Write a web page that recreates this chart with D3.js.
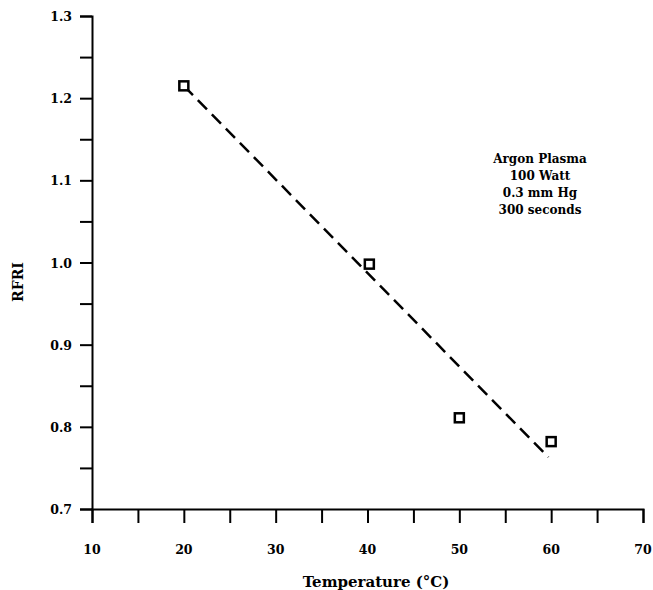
<!DOCTYPE html>
<html><head><meta charset="utf-8">
<script src="https://cdn.jsdelivr.net/npm/d3@7"></script>
<style>body{margin:0;background:#fff}svg{display:block}</style>
</head><body>
<script>
const temps = [20, 40.2, 50, 60];
const rfri = [1.215, 0.998, 0.811, 0.782];
const fitX = [20, 59.7];
const fitY = [1.215, 0.763];
const xTicks = [10, 20, 30, 40, 50, 60, 70];
const yTicks = [0.7, 0.8, 0.9, 1.0, 1.1, 1.2, 1.3];
const noteLines = ["Argon Plasma", "100 Watt", "0.3 mm Hg", "300 seconds"];

const W = 653, H = 590;
const svg = d3.select("body").append("svg").attr("width", W).attr("height", H);
const x = d3.scaleLinear().domain([10, 70]).range([92, 643]);
const y = d3.scaleLinear().domain([0.7, 1.3]).range([509, 16]);
const font = "'DejaVu Serif', serif";

// axes
const xAxis = d3.axisBottom(x).tickValues(d3.range(10, 70.1, 5)).tickSize(14).tickFormat(() => "");
const gx = svg.append("g").attr("transform", "translate(0,509)").call(xAxis);
const yAxis = d3.axisLeft(y).tickValues(d3.range(0.7, 1.301, 0.05)).tickSize(12).tickFormat(() => "");
const gy = svg.append("g").attr("transform", "translate(92,0)").call(yAxis);
[gx, gy].forEach(g => {
  g.select(".domain").attr("stroke", "#000").attr("stroke-width", 2);
  g.selectAll(".tick line").attr("stroke", "#000").attr("stroke-width", 2);
});

svg.append("g").selectAll("text").data(xTicks).join("text")
  .attr("x", d => x(d)).attr("y", 554).attr("text-anchor", "middle")
  .attr("font-family", font).attr("font-weight", "bold").attr("font-size", 12.5)
  .text(d => d);
svg.append("g").selectAll("text").data(yTicks).join("text")
  .attr("x", 72).attr("y", d => y(d) + 5).attr("text-anchor", "end")
  .attr("font-family", font).attr("font-weight", "bold").attr("font-size", 12.5)
  .text(d => d.toFixed(1));

svg.append("text").attr("x", 376).attr("y", 587).attr("text-anchor", "middle")
  .attr("font-family", font).attr("font-weight", "bold").attr("font-size", 15)
  .text("Temperature (°C)");
svg.append("text").attr("transform", "translate(23,282) rotate(-90)").attr("text-anchor", "middle")
  .attr("font-family", font).attr("font-weight", "bold").attr("font-size", 14)
  .text("RFRI");

// fit line
svg.append("path")
  .attr("d", d3.line().x(d => x(d[0])).y(d => y(d[1]))(fitX.map((v, i) => [v, fitY[i]])))
  .attr("fill", "none").attr("stroke", "#000").attr("stroke-width", 2.5)
  .attr("stroke-dasharray", "13,7");

// markers
svg.append("g").selectAll("rect").data(temps).join("rect")
  .attr("x", (d) => x(d) - 4.5).attr("y", (d, i) => y(rfri[i]) - 4.5)
  .attr("width", 9).attr("height", 9)
  .attr("fill", "#fff").attr("stroke", "#000").attr("stroke-width", 2.5);

// note
svg.append("g").selectAll("text").data(noteLines).join("text")
  .attr("x", 540).attr("y", (d, i) => 163 + i * 17).attr("text-anchor", "middle")
  .attr("font-family", font).attr("font-weight", "bold").attr("font-size", 12)
  .text(d => d);
</script>
</body></html>
